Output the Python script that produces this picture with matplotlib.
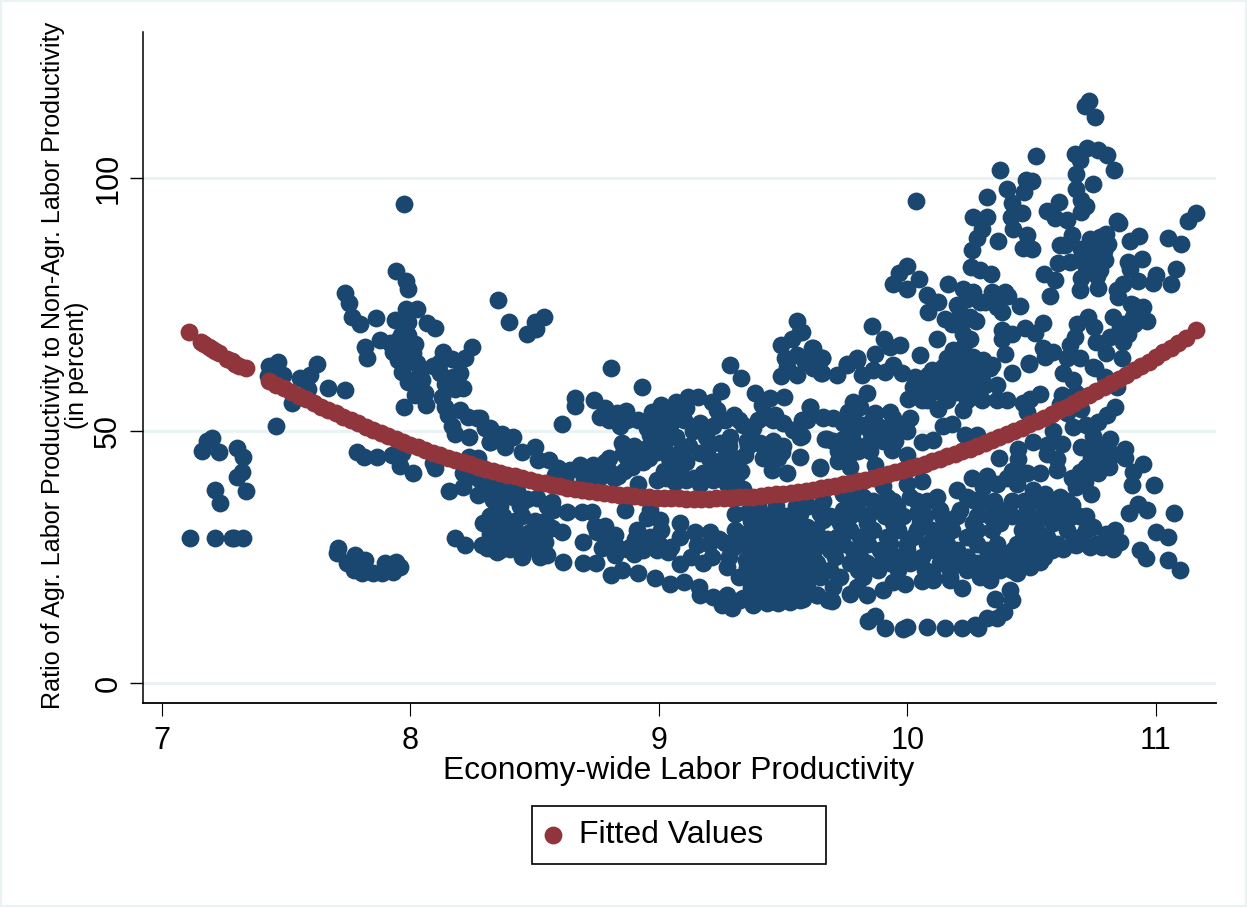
import matplotlib
matplotlib.use('Agg')
import matplotlib.pyplot as plt
from matplotlib.patches import Rectangle

# points, (labor productivity, ratio in percent), by area of the plot
far_left = [(7.111,28.8),(7.212,28.7),(7.28,28.7),(7.29,28.8),(7.325,28.7),(7.203,48.6),(7.18,47.9),(7.162,46),
            (7.23,45.8),(7.303,46.6),(7.325,44.8),(7.323,41.8),(7.3,40.7),(7.212,38.3),(7.337,38.1),(7.233,35.6),
            (7.432,62.8),(7.468,63.6),(7.488,61),(7.428,60.7),(7.524,55.5),(7.555,60.3),(7.595,61),(7.625,63.2),
            (7.589,58.3),(7.667,58.5),(7.738,58),(7.459,50.9)]

low_blob = [(7.71,26.7),(7.706,25.7),(7.743,23.7),(7.777,25.3),(7.817,24.4),(7.772,22.4),(7.803,21.8),(7.848,21.7),
            (7.884,21.7),(7.931,22),(7.897,23.7),(7.942,24),(7.958,23),(7.783,23.7)]

hump_8 = [(7.973,94.8),(7.942,81.6),(7.98,79.6),(7.99,78),(8.353,75.8),(7.735,77.3),(7.754,75.3),(7.763,72.5),
          (7.797,71.1),(7.86,72.3),(7.937,71.9),(7.982,74),(8.025,74),(7.99,71.5),(8.065,71.2),(8.098,70.2),
          (7.877,67.9),(7.917,67.3),(7.95,67.9),(7.985,67.3),(8.018,67.1),(7.93,65.6),(7.97,65.3),(8.01,65.3),
          (7.95,64),(7.99,63.6),(8.025,63.4),(7.965,61.6),(7.817,66.6),(7.824,64.4),(7.99,59.7),(8.045,60),
          (8.018,57),(8.058,57.4),(8.062,55),(7.973,54.6),(8.038,61.6),(8.13,65.6),(8.246,66.5),(8.22,64.3),
          (8.165,64.1),(8.09,62.8),(8.12,61.4),(8.2,61.4),(8.18,58.3),(8.21,58.5),(8.14,59.3),(8.125,56.7),
          (8.14,54.7),(8.15,53),(8.2,54),(8.233,52.6),(8.266,52.4),(8.165,50.8),(8.18,49.3),(8.237,48.8),
          (8.3,50.4),(8.333,49.8),(8.32,47.8),(7.786,45.7),(7.814,44.8),(7.864,44.8),(7.924,45.2),(7.958,43),
          (8.011,41.6),(7.967,45.5),(8.098,42.5),(8.09,43.5),(8.237,44.8),(8.273,44.5),(8.213,41.5),(8.246,40.9),
          (8.156,38.1),(8.213,38.9),(8.273,37.2),(8.333,36.6),(8.293,40.2),(8.347,38.9),(8.18,28.8),(8.219,27.3),
          (8.286,27.3),(8.306,26.7),(8.347,26),(8.293,31.6),(8.32,33),(8.347,30.3),(8.32,29.6),
          (7.96,69),(7.93,66.5),(7.99,69),(8.03,60.5),(8.12,63.5),(8.17,60.5)]

middle_top = [(8.395,71.5),(8.539,72.5),(8.5,71.4),(8.505,70.1),(8.47,69.1),(8.805,62.3),(8.933,58.7),(8.608,51.2),
              (8.663,56.4),(8.663,54.8),(8.74,56),(9.286,63),(9.33,60.3),(9.554,71.7),(9.567,69.6),(9.491,66.9),
              (9.534,68.2),(9.614,66.3),(9.655,64.3),(9.507,64.3),(9.554,65),(9.588,63.6),(9.491,60.7),(9.554,61),
              (9.65,61.3),(9.62,62.3),(9.514,62.6),(9.25,57.9),(9.386,57.5),(9.503,56.7),(9.447,56.4),(9.413,55),
              (9.608,54.7),(9.574,52),(9.66,52.6),(9.567,48.8),(9.668,48.4),(9.567,44.8),(9.648,42.5),(9.514,41.5),
              (9.494,45.7),(8.97,53.7),(9.01,55),(9.07,55.7),(9.118,56.7),(9.158,56.6),(9.212,55.7),(9.232,54),
              (9.3,53),(9.265,52),(9.01,53),(9.07,53.4),(9.11,54.4),(9.05,51.4),(8.997,50.8),(8.95,50.4),
              (9.165,51.4),(9.218,50.8),(9.138,50),(9.07,48.8),(9.017,49.1),(8.964,49.1),(9.245,47.5),(9.19,48.8),
              (9.165,45.5),(9.286,48.8),(9.34,51),(9.38,50.4),(9.433,52.7),(9.467,53),(9.5,51.4),(9.54,50.1),
              (9.346,45.1),(9.353,48),(9.406,47.5),(9.46,48),(9.433,46.1),(9.453,42.2),(8.763,52.7),(8.783,54.4),
              (8.83,53.4),(8.866,53.9),(8.917,52),(8.843,50.8),(8.85,47.5),(8.91,45.8),(8.856,45.5),(8.937,43.8),
              (8.99,45.8),(8.89,42.8),(8.836,40.9),(8.783,43.8),(8.736,43.2),(8.682,43.2),(8.642,42.2),(8.595,42.5),
              (8.58,41.2),(8.28,52.4),(8.32,50.4),(8.367,49.4),(8.414,48.8),(8.32,47.8),(8.38,46.8),(8.447,45.8),
              (8.5,46.8),(8.514,44.2),(8.559,44.2),(8.915,39.4),(8.99,40.2),(9.065,44.2),(9.11,43.8),(9.085,45.8),
              (9.065,39.9),(9.11,40.2),(9.085,42.2),(9.178,41.5),(9.218,40.2),(9.28,42.5),(9.313,41.2),(9.272,39.5),
              (9.34,38.5),(9.165,39.5)]

middle_top_fill = [(8.8,52),(8.87,52),(8.96,52),(9.03,52),(9.1,52),(9.24,52),(9.32,52),(9.4,52),(9.46,52),
                   (8.9,47),(8.96,47),(9.02,47),(9.12,47),(9.2,47),(9.28,47),(9.36,47),(9.42,47),(9.5,47),
                   (8.8,44.5),(8.87,44.5),(8.96,44.5),(9.04,44.5),(9.2,44.5),(9.26,44.5),(9.3,44.5),(9.42,44.5),(9.48,44.5),
                   (8.72,42),(8.8,42),(8.86,42),(9.02,42),(9.08,42),(9.22,42),(9.28,42),(9.33,42),
                   (8.62,40.5),(8.7,40.5),(8.76,40.5),(8.82,40.5),(9.03,40.5),(9.14,40.5),(9.24,40.5),(9.3,40.5)]

middle_low = [(8.333,36.2),(8.414,36.9),(8.508,36.6),(8.568,35.9),(8.32,38.9),(8.28,40.2),(8.628,33.9),(8.575,34.3),
              (8.69,33.9),(8.73,33.9),(8.863,34.3),(8.964,34.3),(9.306,33.4),(9.648,33.6),(9.54,32.4),(8.32,33),
              (8.374,33),(8.447,33),(8.32,30.3),(8.38,30.6),(8.508,31.6),(8.568,30.6),(8.608,30),(8.44,29.6),
              (8.5,28),(8.306,27.3),(8.36,26.3),(8.447,25),(8.414,27.3),(8.52,25),(8.548,25.3),(8.615,23.9),
              (8.695,23.7),(8.746,23.7),(8.805,21.4),(8.85,22.4),(8.915,21.7),(8.984,20.7),(9.044,19.7),(9.102,20),
              (9.161,19.1),(9.165,17.4),(9.219,17.1),(9.252,15.4),(9.295,14.8),(9.38,15.4),(9.272,17.4),(9.326,16.4),
              (9.433,15.8),(9.48,15.8),(9.527,16.1),(9.567,16.4),(9.634,17.4),(9.68,16.4),(8.695,28),(8.742,31),
              (8.783,31),(8.823,29.3),(8.83,27),(8.77,26.7),(8.823,25.3),(8.883,27),(8.937,26.3),(8.99,26.3),
              (9.037,26),(9.085,23.6),(9.085,29),(9.085,31.6),(8.91,30.3),(8.903,28.6),(8.964,29),(9.01,30.3),
              (8.95,32.6),(9.004,32.3),(9.145,30),(9.152,27.3),(9.205,30),(9.265,27.7),(9.178,23.7),(9.212,25),
              (9.272,23),(9.32,21),(9.306,30.3),
              (9.353,33.6),(9.406,33.2),(9.46,33.6),(9.514,33),(9.567,33.4),
              (9.38,31),(9.433,30.6),(9.487,31),(9.54,30.4),(9.594,30.8),
              (9.353,28.3),(9.406,28.6),(9.46,28.3),(9.514,28.6),(9.567,28.2),(9.621,28.3),(9.675,28.6),
              (9.38,25.7),(9.433,26),(9.487,25.6),(9.54,25.9),(9.594,25.7),
              (9.353,23),(9.406,23.3),(9.46,23),(9.514,23.2),(9.567,23),(9.62,21.7),
              (9.38,20.4),(9.433,20.6),(9.487,20.3),(9.54,20.5),(9.594,20.4),
              (9.406,17.8),(9.46,18),(9.514,17.8),(9.567,18)]

middle_low_fill = [(9.4,35),(9.47,35),(9.55,35),(9.6,35),
                   (9.37,32),(9.44,32),(9.5,32),(9.56,32),
                   (9.33,29.5),(9.41,29.5),(9.47,29.5),(9.55,29.5),(9.62,29.5),
                   (9.36,27),(9.44,27),(9.5,27),(9.57,27),(9.63,27),
                   (9.35,24.4),(9.41,24.4),(9.47,24.4),(9.52,24.4),(9.59,24.4),
                   (9.36,21.7),(9.44,21.7),(9.5,21.7),(9.56,21.7),
                   (9.37,19),(9.42,19),(9.5,19),(9.55,19),
                   (9.34,16.8),(9.41,16.8),(9.5,16.8),
                   (8.36,35),(8.44,35),(8.55,35),(8.36,32),(8.42,32),(8.5,32),(8.54,32),
                   (8.35,30),(8.42,30),(8.48,30),(8.54,30),(8.33,28),(8.4,28),(8.45,28),(8.54,28),
                   (8.33,26.5),(8.4,26.5),(8.47,26.5),(8.37,38),(8.43,38),(8.38,38.5),(8.42,37),(8.47,36.5),
                   (8.8,27.5),(8.87,26.5),(8.9,25.5),(9.0,27.5),(9.05,27),(9.13,25),(9.2,27.5),(9.24,28.5),
                   (9.28,25),(9.3,27),(8.75,30),(8.8,28.5)]

right_top = [(10.732,115.3),(10.716,114.3),(10.753,112.1),(10.674,104.7),(10.721,105.9),(10.765,105.5),(10.804,104.6),
             (10.694,103.6),(10.832,101.6),(10.68,100.7),(10.748,98.9),(10.678,97.8),(10.7,95.6),(10.718,94.5),
             (10.7,93.3),(10.518,104.4),(10.372,101.6),(10.477,99.7),(10.502,99.4),(10.4,97.9),(10.469,97.3),
             (10.318,96.2),(10.422,95),(10.262,92.2),(10.321,92.3),(10.415,92.2),(10.459,93),(10.298,90),(10.426,90),
             (10.48,88.7),(10.278,88.2),(10.363,87.5),(10.463,86.2),(10.502,85.9),(10.26,85.7),(10.033,95.5),
             (10.61,95.3),(10.563,93.5),(10.594,92),(10.64,91.7),(10.842,91.5),(10.852,91.1),(11.16,93),(11.13,91.5),
             (11.05,88.2),(11.1,86.9),(10.933,88.6),(10.895,87.5),(10.66,88.7),(10.634,86.7),(10.615,86.7),(10.8,89),
             (10.734,88),(10.775,88.3),(10.808,87),(10.768,86.7),(10.72,85.7),(10.795,83.8),(10.748,84.4),(10.694,83.8),
             (10.654,83.4),(10.607,83.1),(10.72,82.4),(10.775,81.8),(10.942,84),(10.889,83.4),(10.895,82),(11.08,82),
             (10.55,81),(10.593,79.9),(10.7,80.1),(10.761,80.5),(10.694,77.9),(10.765,78.2),(11.0,80.8),(10.929,79.6),
             (10.989,79.3),(11.059,79),(10.868,79.1),(10.842,77.8),(10.846,76.5),(10.574,76.7),(10.254,82.4),
             (10.292,81.8),(10.335,81),(10.0,82.6),(9.966,81.2),(9.943,79),(9.997,78.1),(10.048,80),(10.163,79.1),
             (10.077,76.8),(10.124,75.5),(10.084,73.5),(10.225,78),(10.265,77.5),(10.339,77.5),(10.392,77.5),
             (10.406,76.6),(10.292,75.5),(10.359,74.5),(10.379,73.5),(10.453,74.7),(10.2,74.8),(10.211,73.2),
             (10.151,72),(10.276,71.7),(10.225,69.2),(10.252,68.2),(10.544,71.2),(10.513,69.4),(10.473,70.2),
             (10.42,69.2),(10.379,69.9),(10.379,68.2),(10.906,74.9),(10.949,74.5),(10.965,71.7),(10.909,72.5),
             (10.828,72.5),(10.855,70.2),(10.888,69.2),(10.815,68.6),(10.868,67.6),(10.725,72.4),(10.681,71),
             (10.752,70.4),(10.674,68.6),(10.654,66.9),(10.759,67.5),(10.799,65.3),(10.864,64.4),(9.856,70.6),
             (9.905,68.1),(9.97,66.9),(9.93,66.6),(9.869,65.1),(10.117,68.2),(10.05,65),(10.394,65.1),(10.49,63.3),
             (10.547,66.3),(10.553,64.6),(10.587,65.6),(10.64,64.3),(10.694,64.3),(10.748,62.6),(9.795,64),(9.755,63.1),
             (9.62,66.3),(9.655,64.3),(9.574,69.6),(10.184,65.9),(10.158,64.3),(10.225,66.6),(10.265,64.6),(10.305,64),
             (10.339,63),
             (10.72,83),(10.76,85),(10.74,81.5),(10.79,85.5),(10.7,86),(10.76,87.5),(10.25,72.5),(10.31,75.5),
             (10.24,76),(10.36,76),(10.18,71),(10.22,71.5),(10.91,71),(10.87,71),(10.9,75)]

right_mid = [(9.62,63.9),(9.655,61.3),(9.715,61),(9.755,62.9),(9.795,64.3),(9.815,61),(9.862,62),(9.91,61.6),
             (9.943,62.9),(9.977,61.3),(10.03,60.6),(10.084,61),(10.024,58.6),(10.077,58.3),(10.144,62.6),(10.21,63.3),
             (10.278,62.6),(10.332,62.3),(10.144,60),(10.21,60.3),(10.278,60.3),(10.359,59),(10.13,57.6),(10.198,57.6),
             (10.27,57.3),(10.399,56.1),(10.124,54.3),(10.225,54),(10.057,56),(10.003,56.3),(10.422,61.4),(10.49,63.1),
             (10.533,57.2),(10.493,56.3),(10.463,55.5),(10.48,53.7),(10.627,61.3),(10.667,60),(10.754,62.3),(10.795,60.6),
             (10.842,58.6),(10.835,54.7),(10.801,53),(10.667,50.7),(10.614,55.3),(10.64,53.4),(10.7,54.3),(10.768,51.7),
             (10.587,50),(10.62,47.4),(10.748,49),(10.815,48.4),(10.875,46.4),(10.875,44.6),(10.946,43.3),(10.909,41.8),
             (10.905,39.3),(10.992,39.3),(10.7,46.8),(10.808,46.4),(10.72,42.8),(10.812,42.8),(10.694,41.8),(10.768,41.5),
             (10.68,38.9),(10.714,39.8),(10.446,46.4),(10.506,47.8),(10.56,47.1),(10.446,44.4),(10.37,44.6),(10.6,44.4),
             (10.6,42.1),(10.533,41.5),(10.48,41.5),(10.56,45.4),(9.836,57.5),(9.782,55.7),(9.762,53.7),(9.809,54.7),
             (9.869,53.4),(9.93,53.7),(9.608,54.7),(9.661,52.4),(9.594,52),(9.742,51.4),(9.822,51),(9.889,50.7),
             (9.957,50.7),(10.01,52.4),(9.675,48.4),(9.742,48.4),(9.842,47.4),(9.574,49),(9.936,46.1),(9.77,45.4),
             (9.997,45.1),(9.648,42.7),(9.768,42.8),(9.869,43.1),(10.144,50.9),(10.18,51.3),(10.057,47.7),(10.104,48.1),
             (10.231,49.1),(10.278,49.1),
             (10.11,59),(10.18,59),(10.24,59),(10.31,59),(10.1,62),(10.18,62),(10.24,62),(10.31,62),
             (10.08,56),(10.16,56),(10.24,56),(10.3,56),(10.36,56),(9.7,52.5),(9.78,52.5),(9.86,52.5),(9.94,52.5),
             (9.78,50),(9.85,50),(9.93,50),(10.0,50),(9.7,48),(9.78,48),(9.9,48),(9.95,48),(9.72,46),(9.8,46),(9.85,46),
             (9.72,44),(10.62,57),(10.68,57.5),(10.72,51),(10.76,47),(10.74,44.5),(10.66,40.5),(10.78,44),(10.74,37.5),(10.82,45)]

right_low = [(9.742,37.5),(9.648,33.6),(9.661,32.2),(9.742,34.2),(9.809,33.6),(9.876,34.2),(9.956,34.9),(10.037,33.6),
             (10.117,36.9),(10.198,38.2),(10.265,36.2),(10.305,38.8),(10.359,39.5),(10.399,40.5),(10.44,39.5),(10.506,38.2),
             (10.553,37.5),(10.614,36.9),(10.66,35.2),(10.654,32.9),(10.72,33.1),(10.835,30.3),(10.748,30.9),(10.8,29.6),
             (10.855,27.9),(10.828,26.6),(10.781,27),(10.734,27),(10.68,27.3),(10.627,26.6),(10.58,26.3),(10.533,24),
             (10.493,23),(10.439,21.7),(10.372,22.3),(10.332,20.4),(10.278,23.7),(10.252,23.7),(10.218,18.8),(10.171,20.4),
             (10.104,20.4),(10.057,20.2),(9.99,19.7),(9.943,20),(9.903,18.5),(9.836,17.4),(9.769,17.7),(9.695,16.3),
             (9.634,17.4),(9.58,16.7),(9.842,12.2),(9.869,13.3),(9.91,10.8),(9.98,10.6),(10.0,11.1),(10.08,11.1),
             (10.15,10.8),(10.218,10.8),(10.285,10.8),(10.27,11.5),(10.318,12.8),(10.36,12.8),(10.39,14.1),(10.352,16.6),
             (10.419,16.4),(10.412,18.4),(10.929,35.5),(10.893,33.6),(10.962,34.3),(11.072,33.6),(11.0,29.9),(11.05,28.9),
             (10.936,26.3),(10.96,24.8),(11.05,24.4),(11.097,22.3),
             (9.822,36.9),(9.916,36.9),(10.01,36.9),(10.238,36.9),
             (9.93,34.2),(10.13,34.2),(10.211,34.2),(10.372,34.2),(10.48,34.2),(10.587,34.2),
             (9.728,31.6),(9.836,31.6),(9.943,31.6),(10.05,31.6),(10.158,31.6),(10.265,31.6),(10.372,31.6),(10.506,31.6),(10.587,31.6),
             (9.608,28.9),(9.715,28.9),(9.809,28.9),(9.916,28.9),(10.024,28.9),(10.13,28.9),(10.238,28.9),(10.48,28.9),(10.56,28.9),(10.694,28.9),
             (9.594,26.3),(9.688,26.3),(9.782,26.3),(9.889,26.3),(9.997,26.3),(10.104,26.3),(10.198,26.3),(10.318,26.3),(10.426,26.3),(10.506,26.3),
             (9.634,23.7),(9.769,23.7),(9.836,23.7),(9.93,23.7),(10.01,23.7),(10.13,23.7),(10.198,23.7),(10.359,23.7),(10.439,23.7),
             (9.581,21),(9.648,21),(9.728,21),(9.822,21),(10.104,21),(10.171,21),(10.292,21),
             (9.594,19),(9.702,19),(9.795,19)]

right_low_fill = [(9.66,36),(9.78,36),(9.86,36),(9.94,36),(10.04,36),(10.08,36),(10.3,36),(10.35,36),(10.42,36),(10.47,36),(10.53,36),(10.58,36),(10.64,36),
                  (9.69,33),(9.77,33),(9.84,33),(9.91,33),(9.98,33),(10.07,33),(10.14,33),(10.2,33),(10.28,33),(10.33,33),(10.42,33),(10.47,33),(10.54,33),(10.61,33),(10.69,33),
                  (9.63,30.3),(9.77,30.3),(9.86,30.3),(9.96,30.3),(10.04,30.3),(10.1,30.3),(10.18,30.3),(10.28,30.3),(10.34,30.3),(10.46,30.3),(10.52,30.3),(10.64,30.3),(10.72,30.3),
                  (9.65,27.6),(9.74,27.6),(9.84,27.6),(9.93,27.6),(10.0,27.6),(10.08,27.6),(10.16,27.6),(10.28,27.6),(10.36,27.6),(10.44,27.6),(10.54,27.6),(10.6,27.6),(10.66,27.6),(10.76,27.6),
                  (9.62,25),(9.71,25),(9.81,25),(9.9,25),(9.96,25),(10.06,25),(10.15,25),(10.24,25),(10.34,25),(10.4,25),(10.47,25),(10.55,25),
                  (9.6,22.3),(9.69,22.3),(9.8,22.3),(9.88,22.3),(9.96,22.3),(10.07,22.3),(10.17,22.3),(10.24,22.3),(10.32,22.3),(10.42,22.3),
                  (10.26,40.5),(10.32,41),(10.42,42),(9.9,39),(10.0,39.5),(10.06,40),(9.8,38.5)]

# the fitted values come in two runs, there is a gap in the data near 7.4
fit_x_left = [7.11,7.155,7.17,7.19,7.2,7.215,7.23,7.26,7.28,7.295,7.31,7.338]
fit_y_left = [69.5,67.5,67.1,66.5,66.2,65.8,65.4,64.2,63.8,63.2,62.8,62.4]

fit_x = [7.43,7.46,7.49,7.52,7.55,7.58,7.61,7.64,7.67,7.7,7.73,7.76,7.79,7.82,7.85,7.88,7.91,7.94,7.97,8.0,
         8.03,8.06,8.09,8.12,8.15,8.18,8.21,8.24,8.27,8.3,8.33,8.36,8.39,8.42,8.45,8.48,8.51,8.54,8.57,8.6,
         8.63,8.66,8.69,8.72,8.75,8.78,8.81,8.84,8.87,8.9,8.93,8.96,8.99,9.02,9.05,9.08,9.11,9.14,9.17,9.2,
         9.23,9.26,9.29,9.32,9.35,9.38,9.41,9.44,9.47,9.5,9.53,9.56,9.59,9.62,9.65,9.68,9.71,9.74,9.77,9.8,
         9.83,9.86,9.89,9.92,9.95,9.98,10.01,10.04,10.07,10.1,10.13,10.16,10.19,10.22,10.25,10.28,10.31,10.34,10.37,10.4,
         10.43,10.46,10.49,10.52,10.55,10.58,10.61,10.64,10.67,10.7,10.73,10.76,10.79,10.82,10.85,10.88,10.91,10.94,10.97,11.0,
         11.03,11.06,11.09,11.12,11.16]
fit_y = [59.8,59.1,58.4,57.6,56.9,56.2,55.5,54.7,54.0,53.4,52.7,52.0,51.4,50.7,50.1,49.5,48.9,48.3,47.7,47.2,
         46.7,46.1,45.6,45.1,44.6,44.2,43.7,43.3,42.8,42.4,42.0,41.6,41.2,40.9,40.5,40.2,39.9,39.6,39.3,39.0,
         38.7,38.5,38.2,38.0,37.8,37.6,37.45,37.3,37.15,37.0,36.9,36.8,36.7,36.64,36.58,36.54,36.51,36.5,36.5,36.52,
         36.55,36.6,36.66,36.74,36.83,36.93,37.05,37.19,37.34,37.5,37.68,37.88,38.09,38.31,38.55,38.8,39.07,39.35,39.65,39.96,
         40.29,40.63,40.99,41.36,41.75,42.15,42.56,43.0,43.44,43.9,44.38,44.86,45.37,45.89,46.42,46.97,47.53,48.11,48.7,49.31,
         49.93,50.57,51.22,51.89,52.57,53.27,53.98,54.7,55.45,56.2,56.97,57.76,58.55,59.37,60.2,61.04,61.9,62.77,63.66,64.56,
         65.48,66.4,67.36,68.3,70.0]

x_ticks = [7,8,9,10,11]
y_ticks = [0,50,100]

points = (far_left+low_blob+hump_8+middle_top+middle_top_fill+middle_low+middle_low_fill
          +right_top+right_mid+right_low+right_low_fill)
scatter_x = [p[0] for p in points]
scatter_y = [p[1] for p in points]

plt.rcParams['font.family'] = ['Liberation Sans','DejaVu Sans']

navy = '#1a476f'
maroon = '#90353b'
pale = '#eaf2f3'
dot = 165

W,H = 1247,907
fig = plt.figure(figsize=(W/100,H/100),dpi=100,facecolor='white')
fig.add_artist(Rectangle((0,0),1,1,transform=fig.transFigure,fill=False,edgecolor=pale,linewidth=3))
ax = fig.add_axes([143/W,1-703/H,(1216-143)/W,(703-32)/H])

ax.scatter(scatter_x,scatter_y,s=dot,color=navy,linewidths=0,zorder=3)
ax.scatter(fit_x_left,fit_y_left,s=dot,color=maroon,linewidths=0,zorder=4)
fit = ax.scatter(fit_x,fit_y,s=dot,color=maroon,linewidths=0,zorder=4,label='Fitted Values')

ax.set_xlim(7-19/248.5,7+1054/248.5)
ax.set_ylim(-20/5.05,651/5.05)
ax.spines['top'].set_visible(False)
ax.spines['right'].set_visible(False)
ax.spines['left'].set_linewidth(1.1)
ax.spines['bottom'].set_linewidth(1.3)

ax.set_xticks(x_ticks)
ax.set_yticks(y_ticks)
ax.tick_params(axis='x',length=9.5,width=0.8,labelsize=22,pad=7)
ax.tick_params(axis='y',length=9.7,width=1,labelsize=22,pad=4.5)
for t in ax.get_yticklabels():
    t.set_rotation(90)
    t.set_va('center')
ax.yaxis.grid(True,color=pale,linewidth=2.2,zorder=0)
ax.set_axisbelow(True)

ax.set_xlabel('Economy-wide Labor Productivity',fontsize=22.9,va='center')
ax.xaxis.set_label_coords((679-143)/(1216-143),-(771-703)/(703-32))
ax.set_ylabel('Ratio of Agr. Labor Productivity to Non-Agr. Labor Productivity\n(in percent)',
              fontsize=18.1,linespacing=1.0,ha='center',va='center')
ax.yaxis.set_label_coords((65-143)/(1216-143),(703-365)/(703-32))

# legend box is wider than its content, so the frame is its own patch
fig.add_artist(Rectangle((532/W,1-864/H),294/W,58/H,transform=fig.transFigure,
                         facecolor='white',edgecolor='black',linewidth=1.2))
fig.legend(handles=[fit],loc='center left',bbox_to_anchor=(541/W,1-835/H),fontsize=23,
           frameon=False,borderpad=0,borderaxespad=0,handlelength=0.75,handletextpad=0.44,scatterpoints=1)

fig.savefig('out.png',dpi=100)
